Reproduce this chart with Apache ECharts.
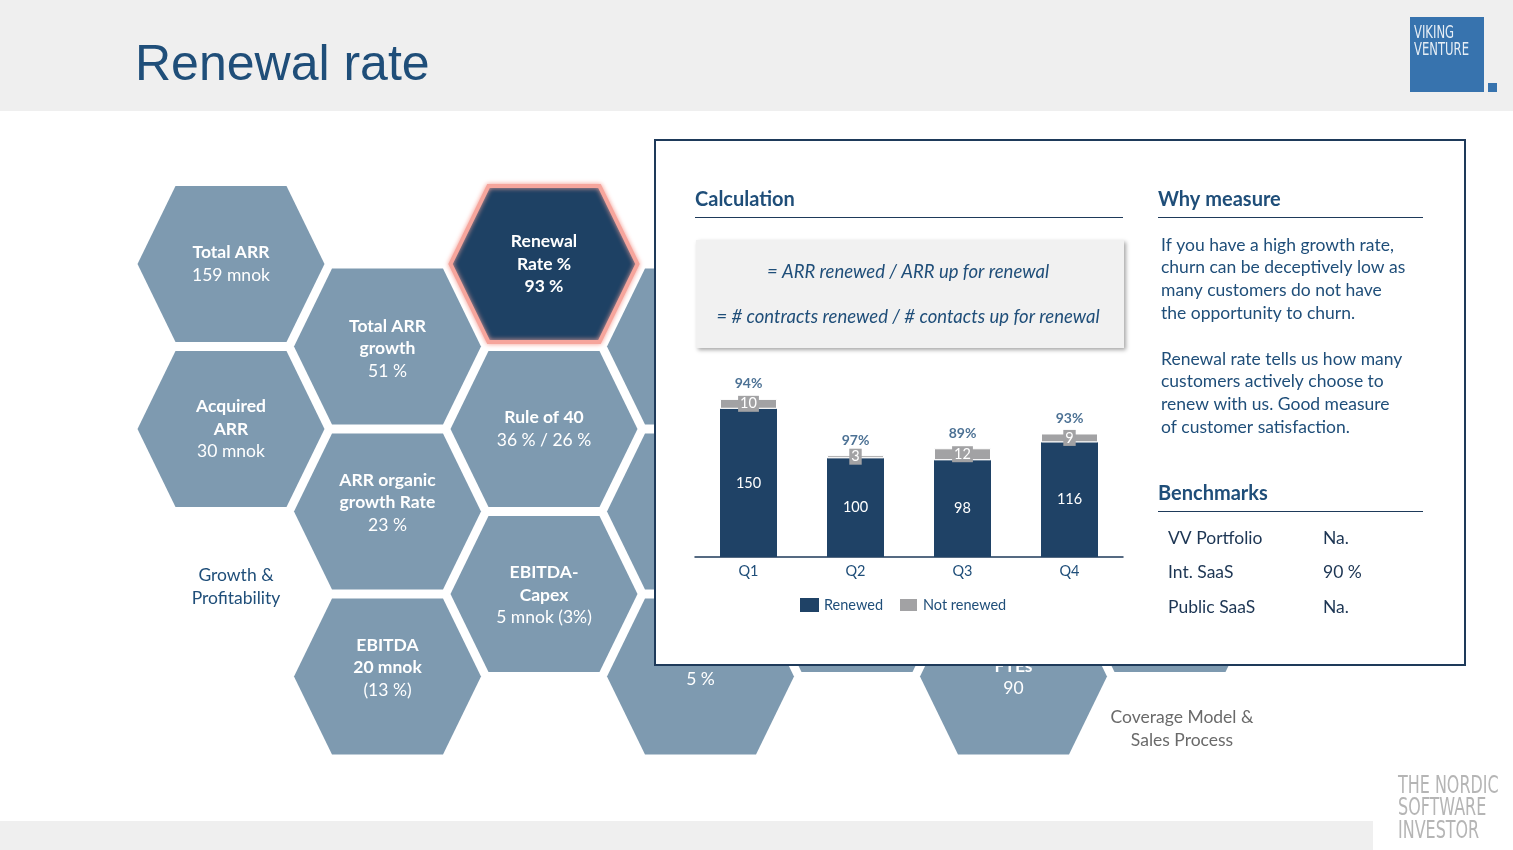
<!DOCTYPE html>
<html><head><meta charset="utf-8">
<script src="https://cdn.jsdelivr.net/npm/echarts@6/dist/echarts.min.js"></script>
<style>html,body{margin:0;padding:0;background:#fff}#c{width:1513px;height:850px}</style>
</head><body><div id="c"></div>
<script>
// ---- data ----
const quarters = ['Q1', 'Q2', 'Q3', 'Q4'];
const renewed = [150, 100, 98, 116];
const notRenewed = [10, 3, 12, 9];
const renewalPct = ['94%', '97%', '89%', '93%'];
const seriesNames = ['Renewed', 'Not renewed'];

const hexTiles = [
  { col: 0, row: 0, lines: [['Total ARR', 1], ['159 mnok', 0]] },
  { col: 0, row: 2, lines: [['Acquired', 1], ['ARR', 1], ['30 mnok', 0]] },
  { col: 1, row: 1, lines: [['Total ARR', 1], ['growth', 1], ['51 %', 0]], shift: 2 },
  { col: 1, row: 3, lines: [['ARR organic', 1], ['growth Rate', 1], ['23 %', 0]], shift: -9 },
  { col: 1, row: 5, lines: [['EBITDA', 1], ['20 mnok', 1], ['(13 %)', 0]], shift: -9 },
  { col: 2, row: 0, lines: [['Renewal', 1], ['Rate %', 1], ['93 %', 1]] , active: true },
  { col: 2, row: 2, lines: [['Rule of 40', 1], ['36 % / 26 %', 0]] },
  { col: 2, row: 4, lines: [['EBITDA-', 1], ['Capex', 1], ['5 mnok (3%)', 0]], shift: 1 },
  { col: 3, row: 1, lines: [] },
  { col: 3, row: 3, lines: [] },
  { col: 3, row: 5, lines: [['', 1], ['5 %', 0], ['', 0]], shift: 3 },
  { col: 4, row: 4, lines: [] },
  { col: 5, row: 5, lines: [['FTEs', 1], ['90', 0]], shift: 1 },
  { col: 6, row: 4, lines: [] }
];
const whyLines1 = ['If you have a high growth rate,', 'churn can be deceptively low as', 'many customers do not have', 'the opportunity to churn.'];
const whyLines2 = ['Renewal rate tells us how many', 'customers actively choose to', 'renew with us. Good measure', 'of customer satisfaction.'];
const benchNames = ['VV Portfolio', 'Int. SaaS', 'Public SaaS'];
const benchValues = ['Na.', '90 %', 'Na.'];
const calcLines = ['= ARR renewed / ARR up for renewal', '= # contracts renewed / # contacts up for renewal'];

// ---- styling helpers ----
const FONT = 'Lato, "Open Sans", sans-serif';
const NARROW = '"Liberation Sans Narrow", "DejaVu Sans Condensed", sans-serif';
const NAVY = '#1f4e79';
const DARK = '#1e3a5a';
const HEX = '#7e9ab0';
const els = [];
function txt(x, y, text, o) {
  o = o || {};
  els.push({
    type: 'text', x: x, y: y, z: o.z || 5,
    scaleX: o.scaleX || 1,
    style: {
      text: text, fill: o.color || NAVY,
      fontSize: o.size || 17.5, fontFamily: o.family || FONT,
      fontWeight: o.weight || 'normal', fontStyle: o.style || 'normal',
      align: o.align || 'left', verticalAlign: 'middle',
      textAlign: o.align || 'left', textVerticalAlign: 'middle'
    }
  });
}
function rect(x, y, w, h, fill, o) {
  o = o || {};
  els.push({ type: 'rect', z: o.z || 1, shape: { x: x, y: y, width: w, height: h },
    style: Object.assign({ fill: fill }, o.style || {}) });
}
function line(x1, y1, x2, y2, color, w, z) {
  els.push({ type: 'line', z: z || 12, shape: { x1: x1, y1: y1, x2: x2, y2: y2 },
    style: { stroke: color, lineWidth: w || 1 } });
}

// header & footer bands
rect(0, 0, 1513, 111, '#efefef');
rect(0, 821, 1373, 29, '#efefef');
txt(135, 66, 'Renewal rate', { size: 50, family: '"Liberation Sans", Arial, sans-serif', color: NAVY });
// logo
rect(1410, 17, 74, 75, '#3773ae', { z: 2 });
rect(1488, 83, 9, 9, '#3773ae', { z: 2 });
txt(1414, 34, 'VIKING', { size: 17, family: NARROW, color: 'rgba(255,255,255,0.88)', scaleX: 0.76 });
txt(1414, 51, 'VENTURE', { size: 17, family: NARROW, color: 'rgba(255,255,255,0.88)', scaleX: 0.76 });
// bottom-right brand
['THE NORDIC', 'SOFTWARE', 'INVESTOR'].forEach(function (s, i) {
  txt(1398, 786 + i * 22.5, s, { size: 25, family: NARROW, color: '#b5b5b5', scaleX: 0.71 });
});

// hexagon grid
const colX0 = 231, colStep = 156.5, rowY0 = 264, rowStep = 82.5;
const HA = 93.5, HB = 55.5, HH = 78;
hexTiles.forEach(function (t) {
  const cx = colX0 + t.col * colStep, cy = rowY0 + t.row * rowStep;
  const pts = [[cx - HB, cy - HH], [cx + HB, cy - HH], [cx + HA, cy], [cx + HB, cy + HH], [cx - HB, cy + HH], [cx - HA, cy]];
  els.push({ type: 'polygon', z: 2, shape: { points: pts },
    style: t.active ? { fill: '#1e4164', stroke: '#f6a59c', lineWidth: 4, shadowBlur: 5, shadowColor: '#f6a59c' } : { fill: HEX } });
  const n = t.lines.length;
  t.lines.forEach(function (l, i) {
    if (!l[0]) return;
    txt(cx, cy + (t.shift || 0) + (i - (n - 1) / 2) * 22.5, l[0], { align: 'center', color: '#ffffff', weight: l[1] ? 'bold' : 'normal', z: 3 });
  });
});
txt(236, 575, 'Growth &', { align: 'center', color: NAVY, z: 3 });
txt(236, 598, 'Profitability', { align: 'center', color: NAVY, z: 3 });
txt(1182, 717, 'Coverage Model &', { align: 'center', color: '#6a6a6a', z: 3 });
txt(1182, 740, 'Sales Process', { align: 'center', color: '#6a6a6a', z: 3 });
txt(815, 147, 'CAC & Sales', { color: '#5f7f9c', z: 3 });

// overlay panel
rect(655, 140, 810, 525, '#ffffff', { z: 8, style: { stroke: DARK, lineWidth: 2 } });
txt(695, 200, 'Calculation', { size: 20, weight: 'bold', z: 12 });
line(695, 217.5, 1123, 217.5, DARK, 1);
txt(1158, 200, 'Why measure', { size: 20, weight: 'bold', z: 12 });
line(1158, 217.5, 1423, 217.5, DARK, 1);
txt(1158, 494, 'Benchmarks', { size: 20, weight: 'bold', z: 12 });
line(1158, 511.5, 1423, 511.5, DARK, 1);
rect(696, 240, 428, 108, '#f1f1f1', { z: 10, style: { shadowBlur: 4, shadowOffsetX: 2, shadowOffsetY: 2, shadowColor: 'rgba(0,0,0,0.35)' } });
calcLines.forEach(function (s, i) {
  txt(908, 272 + i * 45, s, { align: 'center', style: 'italic', size: 18.5, z: 12 });
});
whyLines1.forEach(function (s, i) { txt(1161, 245 + i * 22.7, s, { z: 12 }); });
whyLines2.forEach(function (s, i) { txt(1161, 359 + i * 22.7, s, { z: 12 }); });
benchNames.forEach(function (s, i) {
  txt(1168, 538 + i * 34.5, s, { color: '#1c3553', z: 12 });
  txt(1323, 538 + i * 34.5, benchValues[i], { color: '#1c3553', z: 12 });
});

const totals = renewed.map(function (v, i) { return v + notRenewed[i]; });

const chart = echarts.init(document.getElementById('c'), null, { renderer: 'canvas' });
chart.setOption({
  backgroundColor: '#ffffff',
  animation: false,
  graphic: { elements: els },
  grid: { left: 695, width: 428, top: 389, height: 168 },
  xAxis: {
    type: 'category', data: quarters, z: 20,
    axisLine: { lineStyle: { color: DARK, width: 1.5 } },
    axisTick: { show: false },
    axisLabel: { color: NAVY, fontSize: 14.5, fontFamily: FONT, margin: 7 }
  },
  yAxis: { type: 'value', min: 0, max: 170, show: false, splitLine: { show: false } },
  legend: {
    data: seriesNames, left: 800, top: 597, z: 20, padding: 0,
    icon: 'rect', itemWidth: 19, itemHeight: 14, itemGap: 15,
    textStyle: { color: NAVY, fontSize: 14.5, fontFamily: FONT }
  },
  series: [
    {
      name: seriesNames[0], type: 'bar', stack: 'a', data: renewed, barWidth: 57, z: 20,
      itemStyle: { color: '#1f4266' },
      label: { show: true, position: 'inside', color: '#ffffff', fontSize: 14.5, fontFamily: FONT }
    },
    {
      name: seriesNames[1], type: 'bar', stack: 'a', data: notRenewed, barWidth: 57, z: 20,
      itemStyle: { color: '#a2a2a4', borderColor: '#ffffff', borderWidth: 1 },
      label: { show: true, position: 'inside', color: '#ffffff', fontSize: 14.5, fontFamily: FONT,
        backgroundColor: '#a2a2a4', padding: [1, 2, 0, 2] }
    },
    {
      name: 'pct', type: 'scatter', data: totals, symbolSize: 0, z: 21,
      itemStyle: { color: 'rgba(0,0,0,0)' },
      label: { show: true, position: 'top', distance: 8, color: NAVY, fontSize: 14, fontWeight: 'bold', fontFamily: FONT,
        formatter: function (p) { return renewalPct[p.dataIndex]; } }
    }
  ]
});
</script></body></html>
